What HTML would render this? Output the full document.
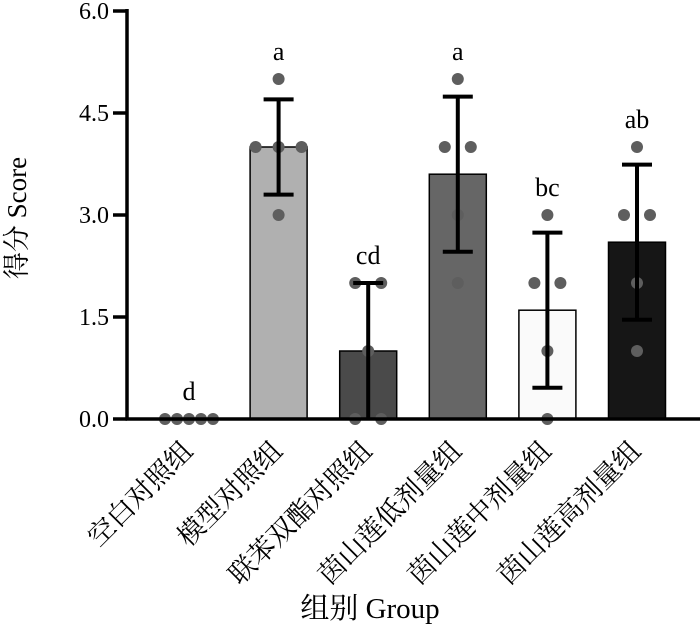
<!DOCTYPE html>
<html><head><meta charset="utf-8"><style>
html,body{margin:0;padding:0;background:#fff;}
svg{display:block;}
text{font-family:"Liberation Serif","Noto Serif CJK SC",serif;fill:#000;}
</style></head><body>
<svg id="chart" width="700" height="630" viewBox="0 0 700 630" xmlns="http://www.w3.org/2000/svg"></svg>
<script>
const categories = ["空白对照组","模型对照组","联苯双酯对照组","茵山莲低剂量组","茵山莲中剂量组","茵山莲高剂量组"];
const means = [0, 4.0, 1.0, 3.6, 1.6, 2.6];
const sds = [0, 0.7, 1.0, 1.14, 1.14, 1.14];
const points = [[0,0,0,0,0],[5,4,4,4,3],[2,2,1,0,0],[5,4,4,3,2],[3,2,2,1,0],[4,3,3,2,1]];
const letters = ["d","a","cd","a","bc","ab"];
const barColors = ["#b0b0b0","#b0b0b0","#4a4a4a","#666666","#fafafa","#161616"];
const yTicks = [0, 1.5, 3.0, 4.5, 6.0];

const NS="http://www.w3.org/2000/svg";
const svg=document.getElementById('chart');
const x0=127, y0=419, yTop=11;
const y=v=>y0-(v/6)*(y0-yTop);
const xc=i=>189+i*89.6;
const bw=57;
function mk(tag,attrs,parent){const e=document.createElementNS(NS,tag);for(const k in attrs)e.setAttribute(k,attrs[k]);(parent||svg).appendChild(e);return e;}

categories.forEach((c,i)=>{
  const g=mk('g',{});
  
  
  if(means[i]>0){
    const r=mk('rect',{x:xc(i)-bw/2,y:y(means[i]),width:bw,height:y0-y(means[i]),fill:barColors[i],stroke:'#000','stroke-width':1.5},g);
    
    
  }
  const counts={};points[i].forEach(v=>counts[v]=(counts[v]||0)+1);
  const seen={};
  points[i].forEach(v=>{
    const n=counts[v];const k=seen[v]=(seen[v]||0)+1;
    const sp=n>=5?12:(n===3?23:26);
    const dx=(k-1-(n-1)/2)*sp;
    const d=mk('circle',{cx:xc(i)+dx,cy:y(v),r:6,fill:'#5e5e5e'},g);
    
    
  });
  if(sds[i]>0){
    const lo=Math.max(0,means[i]-sds[i]),hi=means[i]+sds[i];
    const eb=mk('g',{stroke:'#000','stroke-width':4},g);
    
    
    mk('line',{x1:xc(i),x2:xc(i),y1:y(hi),y2:y(lo)},eb);
    mk('line',{x1:xc(i)-15,x2:xc(i)+15,y1:y(hi),y2:y(hi)},eb);
    if(means[i]-sds[i]>0) mk('line',{x1:xc(i)-15,x2:xc(i)+15,y1:y(lo),y2:y(lo)},eb);
  }
  const top=Math.max(means[i]+sds[i],Math.max(...points[i]));
  const t=mk('text',{x:xc(i),y:y(top)-19,'text-anchor':'middle','font-size':26},g);
  t.textContent=letters[i];
  
  
  const lx=xc(i)+1, ly=448;
  const xl=mk('text',{x:lx,y:ly,'text-anchor':'end','font-size':27,transform:`rotate(-45 ${lx} ${ly})`,'dominant-baseline':'middle'});
  xl.textContent=c;
  
  
});

const ax=mk('g',{stroke:'#000','stroke-width':3.5});


mk('line',{x1:x0,x2:x0,y1:yTop-2,y2:y0+1.5},ax);
mk('line',{x1:x0-1.5,x2:700,y1:y0,y2:y0},ax);
yTicks.forEach(v=>{
  mk('line',{x1:x0-14,x2:x0,y1:y(v),y2:y(v)},ax);
  const t=mk('text',{x:x0-18,y:y(v)+8,'text-anchor':'end','font-size':24});
  t.textContent=v.toFixed(1);
  
  
});
const yt=mk('text',{x:26,y:218,'text-anchor':'middle','font-size':27,transform:'rotate(-90 26 218)'});
yt.textContent='得分 Score';


const xt=mk('text',{x:370,y:618,'text-anchor':'middle','font-size':29,'xml:space':'preserve'});
xt.textContent='组别  Group';


</script>
</body></html>
